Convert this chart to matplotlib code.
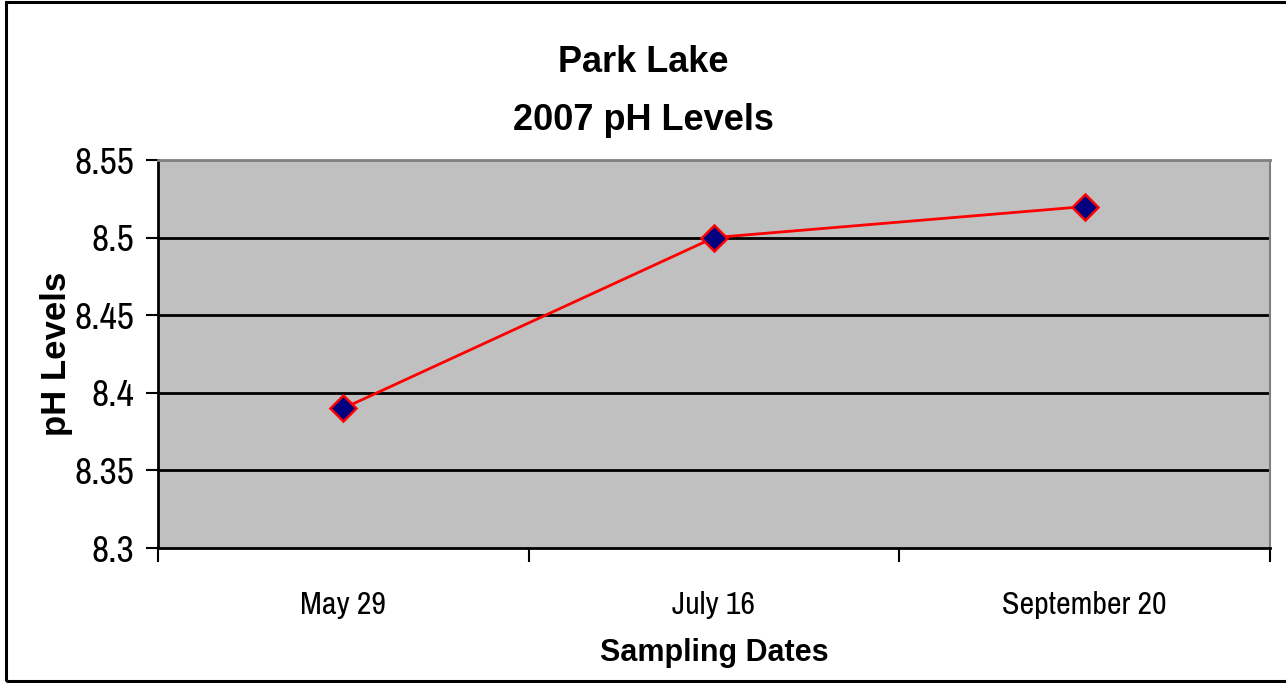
import matplotlib
matplotlib.use("Agg")
import matplotlib.pyplot as plt
from matplotlib.patches import Rectangle

# data
dates = ['May 29', 'July 16', 'September 20']
ph_levels = [8.39, 8.50, 8.52]
y_ticks = [8.3, 8.35, 8.4, 8.45, 8.5, 8.55]
y_labels = ['8.3', '8.35', '8.4', '8.45', '8.5', '8.55']

narrow = ['Archivo Narrow', 'Liberation Sans', 'DejaVu Sans']
bold = ['Liberation Sans', 'DejaVu Sans']
plt.rcParams['font.family'] = narrow

fig = plt.figure(figsize=(12.86, 6.83), dpi=100)
ax = fig.add_axes([158/1286, 1 - 548/683, (1270-158)/1286, (548-160)/683])

# outer frame of the chart
fig.patches.append(Rectangle((6/1286, 2/683), 1.1, 1 - 4/683, transform=fig.transFigure,
                             fill=False, edgecolor='black', linewidth=2.2))

ax.set_facecolor('#C0C0C0')
xs = list(range(len(dates)))
ax.plot(xs, ph_levels, color='red', linewidth=2, marker='D', markersize=13,
        markerfacecolor='#000080', markeredgecolor='red', markeredgewidth=1.8, zorder=5)

ax.set_xlim(-0.5, len(dates) - 0.5)
ax.set_ylim(8.3, 8.55)
ax.set_yticks(y_ticks)
ax.set_yticklabels(y_labels, fontsize=27)
ax.set_xticks([x - 0.5 for x in range(len(dates) + 1)])
ax.set_xticklabels([])
ax.set_xticks(xs, minor=True)
ax.set_xticklabels(dates, minor=True, fontsize=23)
ax.tick_params(axis='x', which='minor', length=0, pad=31)
ax.tick_params(axis='x', which='major', length=10, width=1.5, direction='out')
ax.tick_params(axis='y', length=9, width=1.5, direction='out', pad=8)

for y in y_ticks[1:-1]:
    ax.axhline(y, color='black', linewidth=2, zorder=1)

for side in ['left', 'bottom']:
    ax.spines[side].set_linewidth(2)
    ax.spines[side].set_color('black')
ax.spines['top'].set_color('#808080')
ax.spines['top'].set_linewidth(2)
ax.spines['right'].set_color('#808080')
ax.spines['right'].set_linewidth(1.5)

ax.set_xlabel('Sampling Dates', fontsize=22, fontweight='bold', labelpad=14, family=bold)
ax.set_ylabel('pH Levels', fontsize=25, fontweight='bold', labelpad=1, family=bold)

fig.text(0.5, 1 - 62/683, 'Park Lake', ha='center', va='center', fontsize=26,
         fontweight='bold', family=bold)
fig.text(0.5, 1 - 120/683, '2007 pH Levels', ha='center', va='center', fontsize=26,
         fontweight='bold', family=bold)

fig.savefig('out.png', dpi=100)
